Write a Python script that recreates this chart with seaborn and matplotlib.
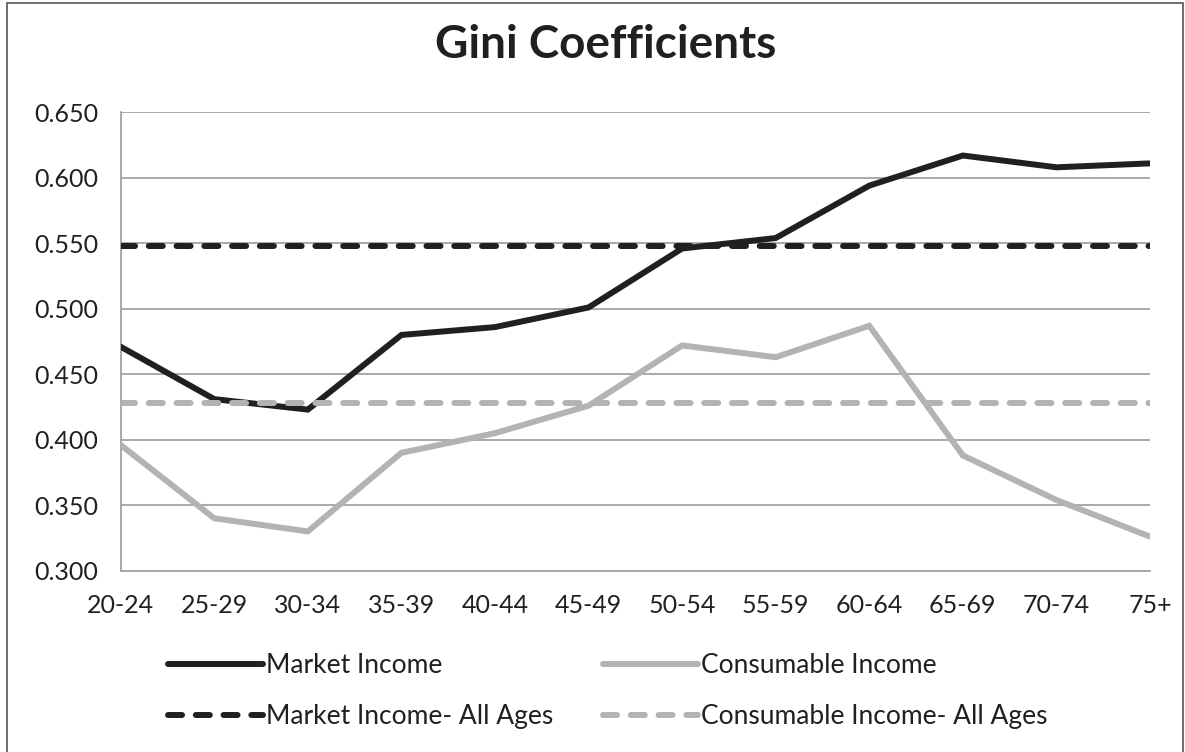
import matplotlib
matplotlib.use("Agg")
import matplotlib.pyplot as plt
import matplotlib.patches as mpatches
import seaborn as sns
import pandas as pd

# ---- data ----
age_groups = ["20-24", "25-29", "30-34", "35-39", "40-44", "45-49",
              "50-54", "55-59", "60-64", "65-69", "70-74", "75+"]
market_income = [0.471, 0.431, 0.423, 0.480, 0.486, 0.501,
                 0.546, 0.554, 0.594, 0.617, 0.608, 0.611]
consumable_income = [0.396, 0.340, 0.330, 0.390, 0.405, 0.426,
                     0.472, 0.463, 0.487, 0.388, 0.354, 0.326]
market_all_ages = 0.548
consumable_all_ages = 0.428
y_ticks = [0.300, 0.350, 0.400, 0.450, 0.500, 0.550, 0.600, 0.650]
title = "Gini Coefficients"
labels = ["Market Income", "Consumable Income",
          "Market Income- All Ages", "Consumable Income- All Ages"]

BLACK = "#231f20"
GREY = "#b3b3b6"
GRID = "#a3a3a6"

sns.set_theme(style="white")
plt.rcParams["font.family"] = ["Lato", "DejaVu Sans"]

W, H = 1185, 752
fig = plt.figure(figsize=(W / 100, H / 100), dpi=100)
x0, x1, y0, y1 = 120.7, 1150.0, 112.3, 570.7
ax = fig.add_axes([x0 / W, 1 - y1 / H, (x1 - x0) / W, (y1 - y0) / H])

df = pd.DataFrame({"age": age_groups, "market": market_income,
                   "consumable": consumable_income})

lw = 4.3
dash = (2.35, 2.3)
sns.lineplot(data=df, x="age", y="market", ax=ax, color=BLACK, lw=lw,
             sort=False, label=labels[0], zorder=3)
sns.lineplot(data=df, x="age", y="consumable", ax=ax, color=GREY, lw=lw,
             sort=False, label=labels[1], zorder=3)
ax.axhline(market_all_ages, color=BLACK, lw=lw, dashes=dash,
           dash_capstyle="round", label=labels[2], zorder=4)
ax.axhline(consumable_all_ages, color=GREY, lw=lw, dashes=dash,
           dash_capstyle="round", label=labels[3], zorder=4)
for ln in ax.get_lines()[:2]:
    ln.set_solid_joinstyle("miter")

ax.set_xlim(0, len(age_groups) - 1)
ax.set_ylim(y_ticks[0], y_ticks[-1])
ax.set_yticks(y_ticks)
ax.set_yticklabels([f"{v:.3f}" for v in y_ticks])
ax.set_xlabel("")
ax.set_ylabel("")

ax.grid(axis="y", color=GRID, lw=1.3)
ax.grid(axis="x", visible=False)
ax.set_axisbelow(True)
for s in ["top", "right"]:
    ax.spines[s].set_visible(False)
for s in ["left", "bottom"]:
    ax.spines[s].set_color(GRID)
    ax.spines[s].set_linewidth(1.3)
ax.tick_params(axis="both", which="both", length=6, width=1.3, color=GRID,
               direction="out", labelsize=18, labelcolor="#231f20")
ax.tick_params(axis="y", pad=10)
ax.tick_params(axis="x", pad=11)

fig.text(606 / W, 1 - 45 / H, title, ha="center", va="center",
         fontsize=33, fontweight="bold", color="#231f20")

handles, labs = ax.get_legend_handles_labels()
ax.get_legend().remove()
order = [0, 2, 1, 3]
leg = fig.legend([handles[i] for i in order], [labs[i] for i in order],
                 ncol=2, loc="center left",
                 bbox_to_anchor=(168 / W, 1 - 691 / H),
                 frameon=False, fontsize=19, handlelength=3.6,
                 handletextpad=0.1, columnspacing=1.9, labelspacing=1.0,
                 borderpad=0, borderaxespad=0)
for t in leg.get_texts():
    t.set_color("#231f20")

fig.patches.append(mpatches.Rectangle((7 / W, -0.01), (1183 - 7) / W,
                                      1 - 3 / H + 0.01,
                                      transform=fig.transFigure, fill=False,
                                      edgecolor="#555555", lw=1.2))

fig.savefig("out.png", dpi=100)
